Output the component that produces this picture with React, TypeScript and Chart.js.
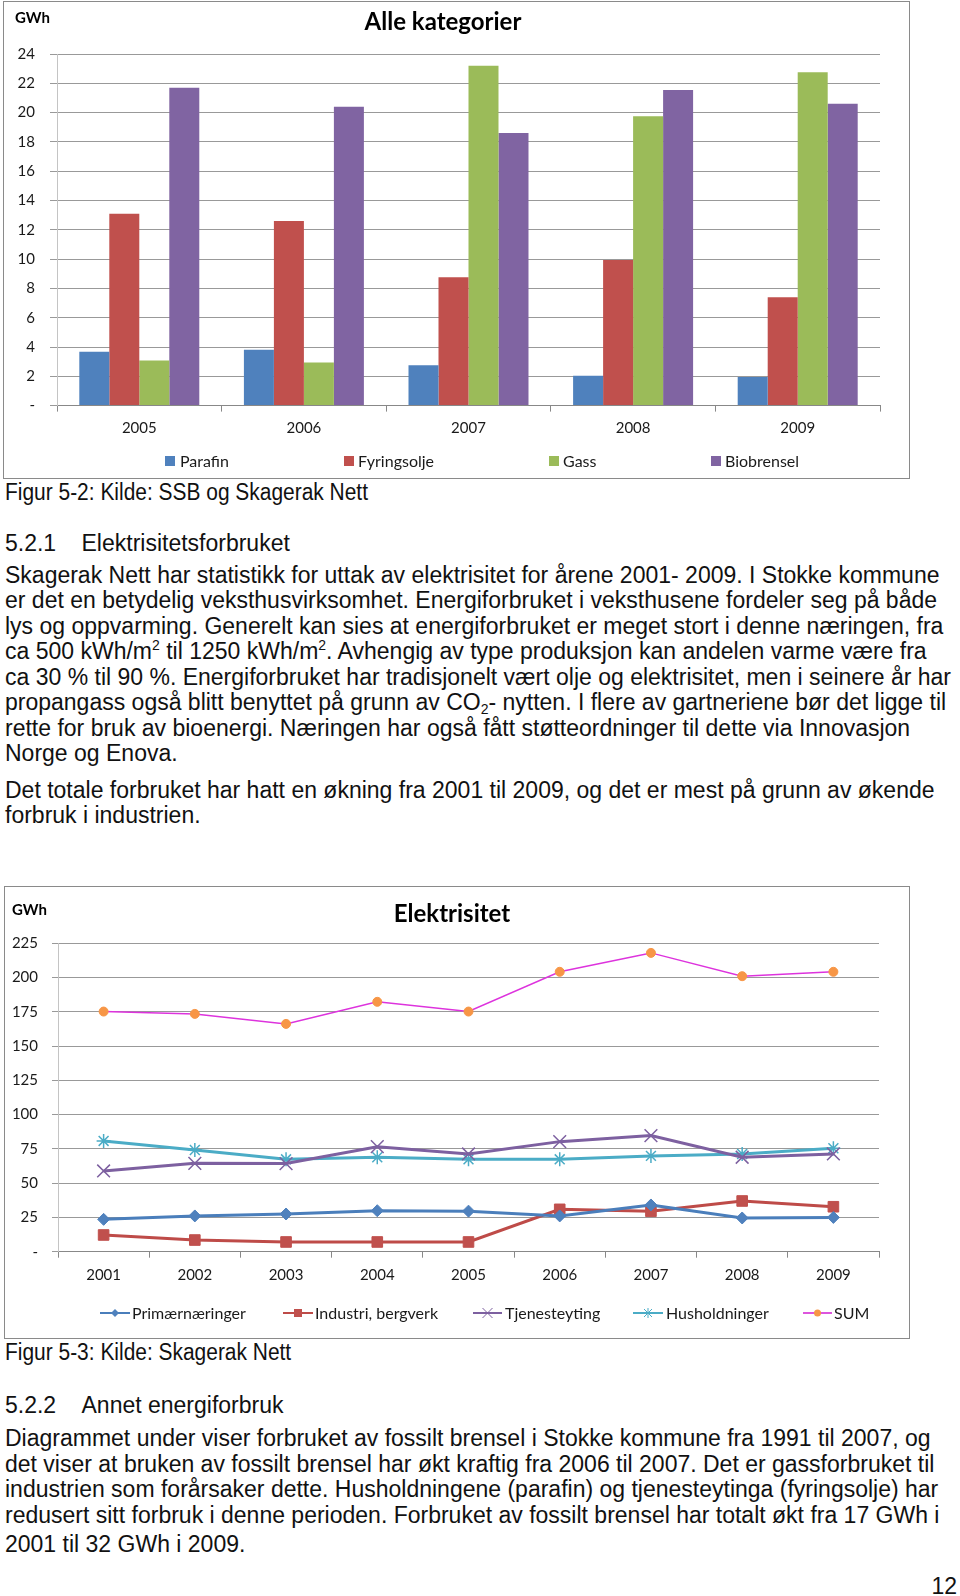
import React, { useEffect, useRef } from 'react';
import { Chart, registerables } from 'chart.js';

Chart.register(...registerables);

// ---------- Chart 1: Alle kategorier ----------
const barYears = ['2005', '2006', '2007', '2008', '2009'];
const parafin = [3.68, 3.82, 2.75, 2.04, 1.95];
const fyringsolje = [13.1, 12.6, 8.76, 9.94, 7.39];
const gass = [3.07, 2.95, 23.2, 19.75, 22.75];
const biobrensel = [21.7, 20.4, 18.6, 21.55, 20.6];
const barYMax = 24;
const barYStep = 2;

// ---------- Chart 2: Elektrisitet ----------
const lineYears = ['2001', '2002', '2003', '2004', '2005', '2006', '2007', '2008', '2009'];
const primaer = [23.6, 26.1, 27.5, 29.9, 29.6, 26.1, 34.1, 24.6, 25.0];
const industri = [12.2, 8.5, 7.1, 7.1, 7.1, 30.9, 29.5, 37.0, 32.8];
const tjeneste = [58.9, 64.5, 64.3, 76.6, 71.3, 80.3, 84.7, 68.9, 71.3];
const hushold = [80.8, 74.2, 67.4, 68.9, 67.4, 67.4, 69.9, 71.3, 75.5];
const sum = [175.2, 173.5, 166.2, 182.3, 175.2, 204.2, 218.0, 201.0, 204.2];
const lineYMax = 225;
const lineYStep = 25;

const tickFont = { family: 'Lato', size: 15 };
const tickColor = '#1a1a1a';
const zeroDash = (v: any) => (Number(v) === 0 ? '-' : String(v));

function BarChart() {
  const ref = useRef<HTMLCanvasElement>(null);
  useEffect(() => {
    const chart = new Chart(ref.current as HTMLCanvasElement, {
      type: 'bar',
      data: {
        labels: barYears,
        datasets: [
          { label: 'Parafin', data: parafin, backgroundColor: '#4F81BD' },
          { label: 'Fyringsolje', data: fyringsolje, backgroundColor: '#C0504D' },
          { label: 'Gass', data: gass, backgroundColor: '#9BBB59' },
          { label: 'Biobrensel', data: biobrensel, backgroundColor: '#8064A2' },
        ],
      },
      options: {
        responsive: false,
        animation: false,
        layout: { padding: { left: 0, top: 52, right: 28, bottom: 31.4 } },
        plugins: { legend: { display: false }, title: { display: false }, tooltip: { enabled: false } },
        datasets: { bar: { barPercentage: 1, categoryPercentage: 0.729, borderWidth: 0 } } as any,
        scales: {
          x: {
            offset: true,
            grid: { offset: true, drawOnChartArea: false, drawTicks: true, tickLength: 6, color: '#888' },
            border: { color: '#888' },
            ticks: { font: tickFont, color: tickColor, padding: 8, maxRotation: 0 },
            afterFit: (s: any) => { s.height = 40; },
          },
          y: {
            min: 0,
            max: barYMax,
            ticks: { stepSize: barYStep, callback: zeroDash, font: tickFont, color: tickColor, padding: 15 },
            grid: { color: '#999', tickLength: 7 },
            border: { color: '#c4c4c4' },
            afterFit: (s: any) => { s.width = 53; },
          },
        },
      } as any,
    });
    return () => chart.destroy();
  }, []);
  return (
    <canvas ref={ref} width={904} height={475}
      style={{ position: 'absolute', left: 4, top: 2, width: 904, height: 475, display: 'block' }} />
  );
}

function LineChart() {
  const ref = useRef<HTMLCanvasElement>(null);
  useEffect(() => {
    const chart = new Chart(ref.current as HTMLCanvasElement, {
      type: 'line',
      data: {
        labels: lineYears,
        datasets: [
          {
            label: 'Primærnæringer', data: primaer, borderColor: '#4A7EBB', borderWidth: 3,
            pointStyle: 'rectRot', pointRadius: 6, pointBackgroundColor: '#4F81BD', pointBorderColor: '#4F81BD', pointBorderWidth: 1,
          },
          {
            label: 'Industri, bergverk', data: industri, borderColor: '#BE4B48', borderWidth: 3,
            pointStyle: 'rect', pointRadius: 7.5, pointBackgroundColor: '#C0504D', pointBorderColor: '#C0504D', pointBorderWidth: 1,
          },
          {
            label: 'Tjenesteyting', data: tjeneste, borderColor: '#7D60A0', borderWidth: 3,
            pointStyle: 'crossRot', pointRadius: 9, pointBackgroundColor: '#7D60A0', pointBorderColor: '#7D60A0', pointBorderWidth: 1.5,
          },
          {
            label: 'Husholdninger', data: hushold, borderColor: '#4BACC6', borderWidth: 3,
            pointStyle: 'star', pointRadius: 7, pointBackgroundColor: '#4BACC6', pointBorderColor: '#4BACC6', pointBorderWidth: 1.5,
          },
          {
            label: 'SUM', data: sum, borderColor: '#DD33DD', borderWidth: 1.5,
            pointStyle: 'circle', pointRadius: 4.5, pointBackgroundColor: '#F79646', pointBorderColor: '#F79646', pointBorderWidth: 1,
          },
        ],
      },
      options: {
        responsive: false,
        animation: false,
        layout: { padding: { left: 0, top: 56.3, right: 29, bottom: 45.3 } },
        plugins: { legend: { display: false }, title: { display: false }, tooltip: { enabled: false } },
        elements: { line: { tension: 0 } },
        scales: {
          x: {
            offset: true,
            grid: { offset: true, drawOnChartArea: false, drawTicks: true, tickLength: 6, color: '#888' },
            border: { color: '#888' },
            ticks: { font: tickFont, color: tickColor, padding: 8, maxRotation: 0, autoSkip: false },
            afterFit: (s: any) => { s.height = 40; },
          },
          y: {
            min: 0,
            max: lineYMax,
            ticks: { stepSize: lineYStep, callback: zeroDash, font: tickFont, color: tickColor, padding: 14 },
            grid: { color: '#999', tickLength: 6 },
            border: { color: '#c4c4c4' },
            afterFit: (s: any) => { s.width = 53; },
          },
        },
      } as any,
    });
    return () => chart.destroy();
  }, []);
  return (
    <canvas ref={ref} width={903} height={450}
      style={{ position: 'absolute', left: 5, top: 887, width: 903, height: 450, display: 'block' }} />
  );
}

const BODY_FONT = "'Liberation Sans', Arial, Helvetica, sans-serif";
const FS = 23;

function TextLine({ baseline, left = 5, children, scaleX = 1 }: any) {
  return (
    <div style={{
      position: 'absolute', left, top: baseline - 0.8465 * FS, fontFamily: BODY_FONT, fontSize: FS,
      lineHeight: FS + 'px', whiteSpace: 'nowrap', color: '#111',
      transform: scaleX !== 1 ? `scaleX(${scaleX})` : undefined, transformOrigin: 'left center',
    }}>{children}</div>
  );
}

const sup = (t: string) => <span style={{ fontSize: 14, position: 'relative', top: -9, lineHeight: 0 }}>{t}</span>;
const sub = (t: string) => <span style={{ fontSize: 14, position: 'relative', top: 4, lineHeight: 0 }}>{t}</span>;

const para1: any[] = [
  'Skagerak Nett har statistikk for uttak av elektrisitet for årene 2001- 2009. I Stokke kommune',
  'er det en betydelig veksthusvirksomhet. Energiforbruket i veksthusene fordeler seg på både',
  'lys og oppvarming. Generelt kan sies at energiforbruket er meget stort i denne næringen, fra',
  <>ca 500 kWh/m{sup('2')} til 1250 kWh/m{sup('2')}. Avhengig av type produksjon kan andelen varme være fra</>,
  'ca 30 % til 90 %. Energiforbruket har tradisjonelt vært olje og elektrisitet, men i seinere år har',
  <>propangass også blitt benyttet på grunn av CO{sub('2')}- nytten. I flere av gartneriene bør det ligge til</>,
  'rette for bruk av bioenergi. Næringen har også fått støtteordninger til dette via Innovasjon',
  'Norge og Enova.',
];
const para2 = [
  'Det totale forbruket har hatt en økning fra 2001 til 2009, og det er mest på grunn av økende',
  'forbruk i industrien.',
];
const para3 = [
  'Diagrammet under viser forbruket av fossilt brensel i Stokke kommune fra 1991 til 2007, og',
  'det viser at bruken av fossilt brensel har økt kraftig fra 2006 til 2007. Det er gassforbruket til',
  'industrien som forårsaker dette. Husholdningene (parafin) og tjenesteytinga (fyringsolje) har',
  'redusert sitt forbruk i denne perioden. Forbruket av fossilt brensel har totalt økt fra 17 GWh i',
  '2001 til 32 GWh i 2009.',
];
const para3Baselines = [1446.5, 1472, 1497.5, 1523, 1552.5];

const LEG_FONT = "Lato, 'Open Sans', sans-serif";

function LegendText({ x, cy, children }: any) {
  return (
    <div style={{ position: 'absolute', left: x, top: cy - 10, fontFamily: LEG_FONT, fontSize: 16,
      lineHeight: '19px', color: '#1a1a1a', whiteSpace: 'nowrap' }}>{children}</div>
  );
}

function SquareLeg({ x, tx, cy, color, label }: any) {
  return (
    <>
      <div style={{ position: 'absolute', left: x, top: cy - 5, width: 10, height: 10, background: color }} />
      <LegendText x={tx} cy={cy}>{label}</LegendText>
    </>
  );
}

function LineLeg({ x0, x1, tx, cy, color, marker, mcolor, label }: any) {
  const w = x1 - x0;
  const m = w / 2;
  let mk: any = null;
  if (marker === 'diamond') mk = <polygon points={`${m},4 ${m + 4},8 ${m},12 ${m - 4},8`} fill={mcolor} />;
  if (marker === 'square') mk = <rect x={m - 4} y={4} width={8} height={8} fill={mcolor} />;
  if (marker === 'x') mk = <path d={`M${m - 5},3 L${m + 5},13 M${m + 5},3 L${m - 5},13`} stroke={mcolor} strokeWidth={1} />;
  if (marker === 'star') mk = <path d={`M${m - 4},4 L${m + 4},12 M${m + 4},4 L${m - 4},12 M${m},3 L${m},13`} stroke={mcolor} strokeWidth={1} />;
  if (marker === 'circle') mk = <circle cx={m} cy={8} r={3.5} fill={mcolor} />;
  return (
    <>
      <svg style={{ position: 'absolute', left: x0, top: cy - 8 }} width={w} height={16}>
        <line x1={0} y1={8} x2={w} y2={8} stroke={color} strokeWidth={2} />
        {mk}
      </svg>
      <LegendText x={tx} cy={cy}>{label}</LegendText>
    </>
  );
}

function Title({ cx, top, children, size = 24, left }: any) {
  const style: any = {
    position: 'absolute', top, fontFamily: LEG_FONT, fontWeight: 700, fontSize: size,
    lineHeight: size + 'px', color: '#000', whiteSpace: 'nowrap',
  };
  if (left !== undefined) style.left = left;
  else { style.left = cx; style.transform = 'translateX(-50%)'; }
  return <div style={style}>{children}</div>;
}

export default function App() {
  return (
    <div style={{ position: 'absolute', left: 0, top: 0, width: 960, height: 1596, background: '#fff', overflow: 'hidden' }}>
      {/* Chart 1 frame */}
      <div style={{ position: 'absolute', left: 3, top: 1, width: 907, height: 478, border: '1px solid #8a8a8a', boxSizing: 'border-box' }} />
      <BarChart />
      <Title left={15} top={9.6} size={15}>GWh</Title>
      <Title cx={443} top={9.1}>Alle kategorier</Title>
      <SquareLeg x={165} tx={180} cy={460.7} color="#4F81BD" label="Parafin" />
      <SquareLeg x={344} tx={358} cy={460.7} color="#C0504D" label="Fyringsolje" />
      <SquareLeg x={549} tx={563} cy={460.7} color="#9BBB59" label="Gass" />
      <SquareLeg x={711} tx={725} cy={460.7} color="#8064A2" label="Biobrensel" />

      <TextLine baseline={500} scaleX={0.91}>Figur 5-2: Kilde: SSB og Skagerak Nett</TextLine>
      <TextLine baseline={551.7}>5.2.1</TextLine>
      <TextLine baseline={551.7} left={81.5}>Elektrisitetsforbruket</TextLine>
      {para1.map((t, i) => <TextLine key={'p1' + i} baseline={583.3 + i * 25.45}>{t}</TextLine>)}
      {para2.map((t, i) => <TextLine key={'p2' + i} baseline={798 + i * 25}>{t}</TextLine>)}

      {/* Chart 2 frame */}
      <div style={{ position: 'absolute', left: 4, top: 886, width: 906, height: 453, border: '1px solid #8a8a8a', boxSizing: 'border-box' }} />
      <LineChart />
      <Title left={12} top={902.1} size={15}>GWh</Title>
      <Title cx={452} top={900.7}>Elektrisitet</Title>
      <LineLeg x0={100} x1={130} tx={132} cy={1313} color="#4A7EBB" marker="diamond" mcolor="#4F81BD" label="Primærnæringer" />
      <LineLeg x0={283} x1={313} tx={315} cy={1313} color="#BE4B48" marker="square" mcolor="#C0504D" label="Industri, bergverk" />
      <LineLeg x0={473} x1={502} tx={505} cy={1313} color="#7D60A0" marker="x" mcolor="#7D60A0" label="Tjenesteyting" />
      <LineLeg x0={633} x1={663} tx={666} cy={1313} color="#4BACC6" marker="star" mcolor="#4BACC6" label="Husholdninger" />
      <LineLeg x0={803} x1={832} tx={834} cy={1313} color="#DD55DD" marker="circle" mcolor="#F79646" label="SUM" />

      <TextLine baseline={1360} scaleX={0.91}>Figur 5-3: Kilde: Skagerak Nett</TextLine>
      <TextLine baseline={1413}>5.2.2</TextLine>
      <TextLine baseline={1413} left={81.5}>Annet energiforbruk</TextLine>
      {para3.map((t, i) => <TextLine key={'p3' + i} baseline={para3Baselines[i]}>{t}</TextLine>)}
      <div style={{ position: 'absolute', right: 3, top: 1594 - 0.8465 * FS, fontFamily: BODY_FONT, fontSize: FS, lineHeight: FS + 'px', color: '#111' }}>12</div>
    </div>
  );
}
